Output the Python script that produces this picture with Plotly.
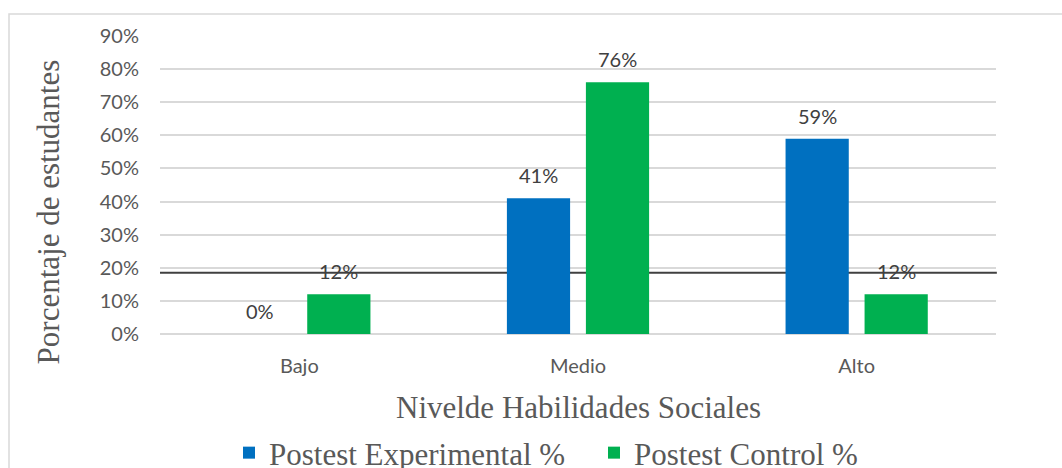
import plotly.graph_objects as go

categories = ["Bajo", "Medio", "Alto"]
experimental = [0.0, 0.41, 0.59]
control = [0.12, 0.76, 0.12]
series_names = ["Postest Experimental %", "Postest Control %"]
tick_vals = [0, 0.1, 0.2, 0.3, 0.4, 0.5, 0.6, 0.7, 0.8, 0.9]
tick_text = ["0%", "10%", "20%", "30%", "40%", "50%", "60%", "70%", "80%", "90%"]
ref_line = 0.185

BLUE = "#0070C0"
GREEN = "#00B050"
SANS = "Lato, 'Open Sans', sans-serif"
SERIF = "'Liberation Serif', 'Times New Roman', serif"

fig = go.Figure()
fig.add_trace(go.Bar(x=categories, y=experimental, name=series_names[0],
                     marker=dict(color=BLUE, line=dict(width=0))))
fig.add_trace(go.Bar(x=categories, y=control, name=series_names[1],
                     marker=dict(color=GREEN, line=dict(width=0))))

annotations = []
for vals, shift in ((experimental, -39.5), (control, 39.5)):
    for c, v in zip(categories, vals):
        annotations.append(dict(x=c, y=v, xref="x", yref="y", xshift=shift, yshift=23,
                                text=f"{round(v*100)}%", showarrow=False,
                                font=dict(family=SANS, size=20, color="#404040"),
                                xanchor="center", yanchor="middle"))

annotations.append(dict(x=(48 - 160) / 836, y=0.408, xref="paper", yref="paper",
                        text="Porcentaje de estudantes", textangle=-90, showarrow=False,
                        font=dict(family=SERIF, size=31, color="#595959"),
                        xanchor="center", yanchor="middle"))
annotations.append(dict(x=0.5, y=(334 - 407) / 298, xref="paper", yref="paper",
                        text="Nivelde Habilidades Sociales", showarrow=False,
                        font=dict(family=SERIF, size=31, color="#595959"),
                        xanchor="center", yanchor="middle"))

shapes = [
    dict(type="rect", xref="paper", yref="paper", x0=(9 - 160) / 836, x1=1.3,
         y0=-1.0, y1=(334 - 14) / 298, line=dict(color="#d9d9d9", width=1.5),
         fillcolor="rgba(0,0,0,0)", layer="below"),
    dict(type="line", xref="paper", yref="y", x0=0, x1=1.001, y0=ref_line, y1=ref_line,
         line=dict(color="#404040", width=2), layer="below"),
]

fig.update_layout(
    width=1062, height=468,
    margin=dict(l=160, r=66, t=36, b=134, pad=0, autoexpand=False),
    paper_bgcolor="white", plot_bgcolor="white",
    barmode="group", bargap=0.433, bargroupgap=0.2,
    showlegend=True,
    legend=dict(orientation="h", x=(229 - 160) / 836, xanchor="left",
                y=(468 - 453) / 468, yref="container", yanchor="middle",
                entrywidth=320, entrywidthmode="pixels",
                font=dict(family=SERIF, size=31, color="#595959"),
                bgcolor="rgba(0,0,0,0)", itemclick=False, traceorder="normal"),
    annotations=annotations,
    shapes=shapes,
)
fig.update_xaxes(showgrid=False, showline=False, zeroline=False, ticks="",
                 tickfont=dict(family=SANS, size=20, color="#595959"),
                 ticklabelstandoff=18)
fig.update_yaxes(range=[0, 0.9], tickvals=tick_vals, ticktext=tick_text,
                 showgrid=True, gridcolor="#d9d9d9", gridwidth=1.5,
                 zeroline=True, zerolinecolor="#d9d9d9", zerolinewidth=1.5,
                 showline=False, ticks="",
                 tickfont=dict(family=SANS, size=20, color="#595959"),
                 ticklabelstandoff=20)

fig.write_html("out.html")
